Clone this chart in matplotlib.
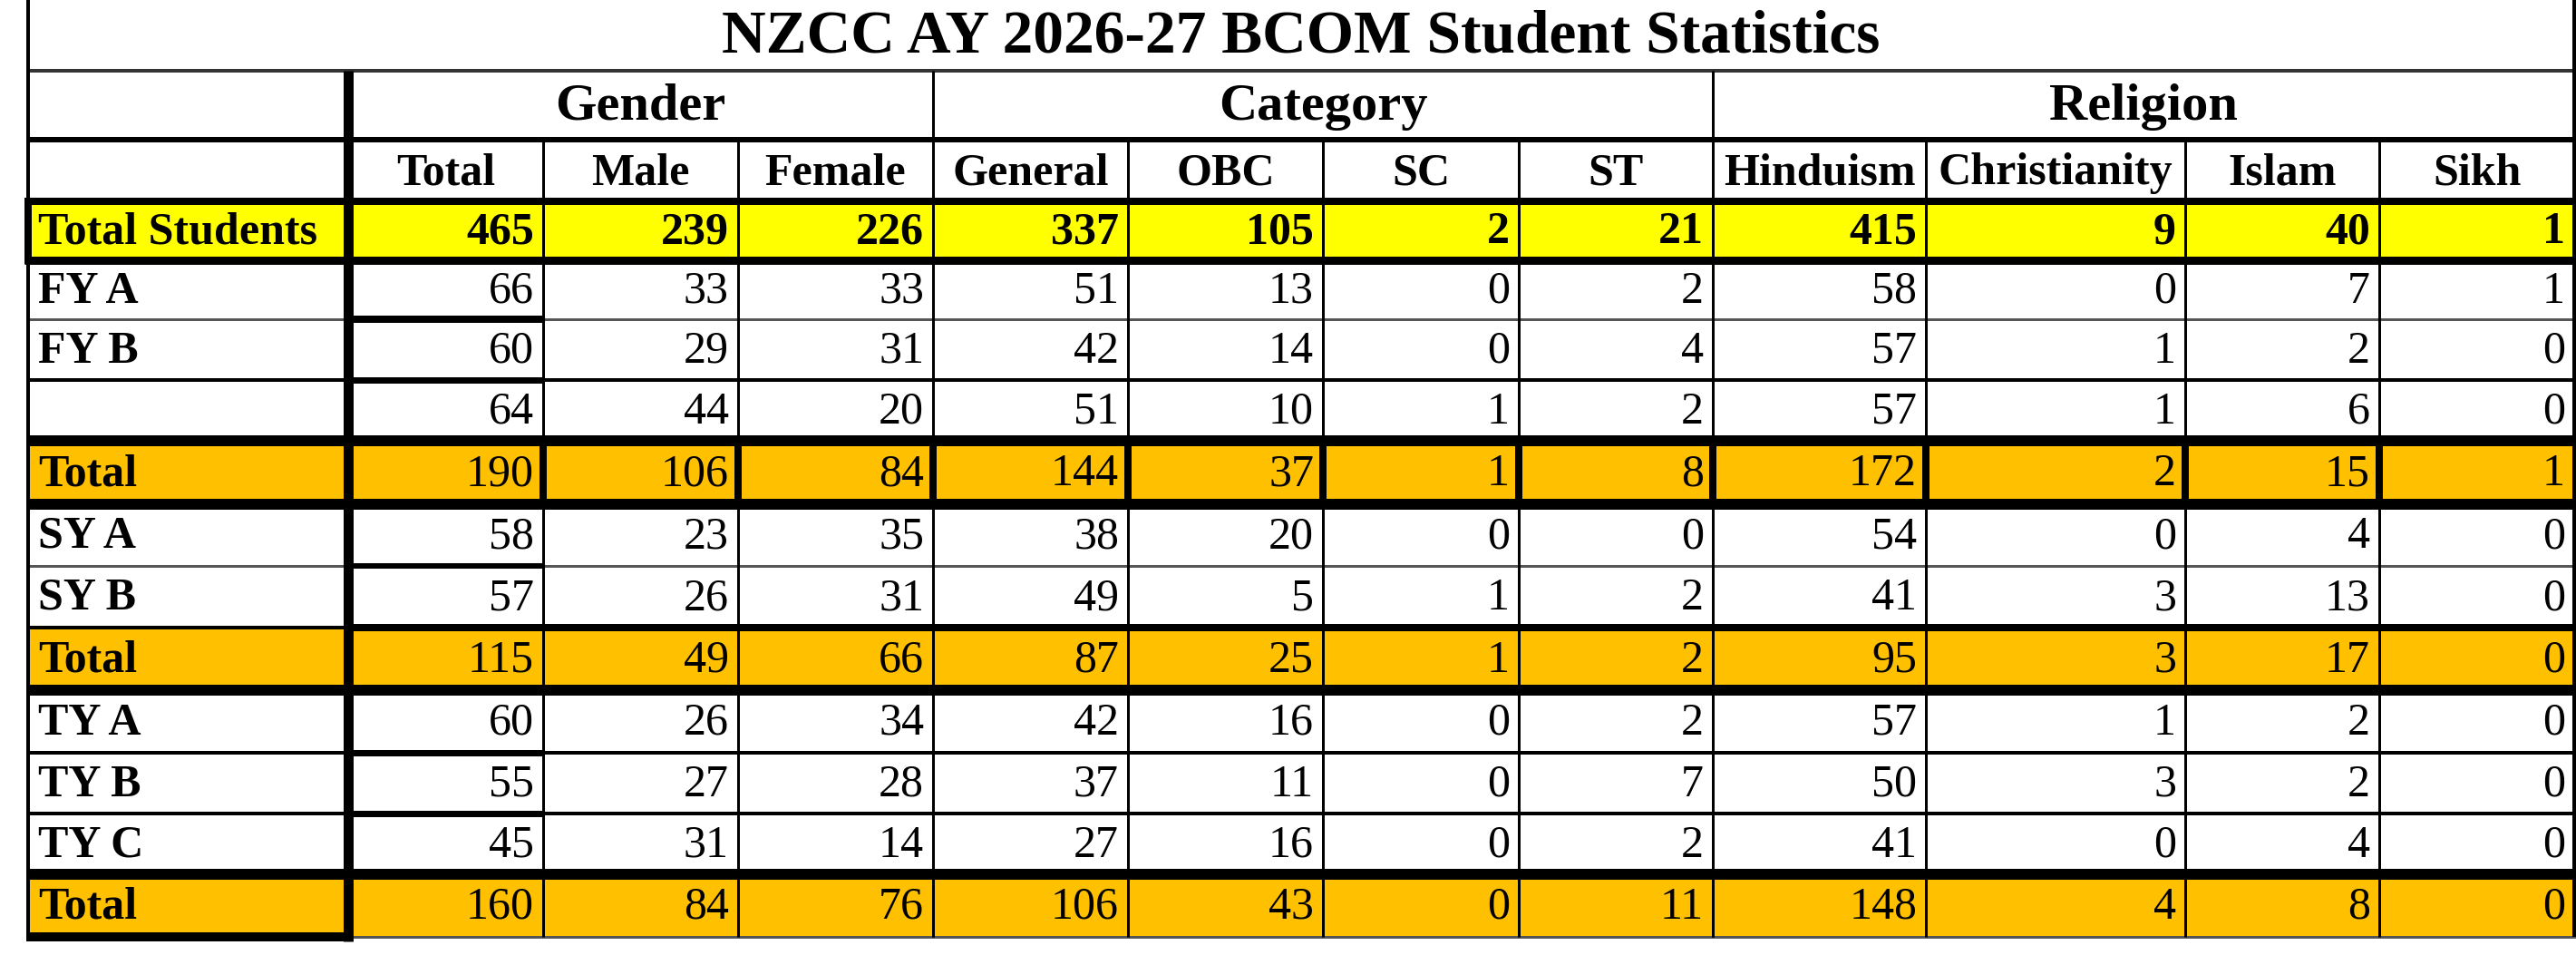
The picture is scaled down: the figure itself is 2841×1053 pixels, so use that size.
import matplotlib
matplotlib.use("Agg")
import matplotlib.pyplot as plt
from matplotlib.patches import Rectangle

# ---- data ----
title = "NZCC AY 2026-27 BCOM Student Statistics"
groups = ["Gender", "Category", "Religion"]
group_span = [(0, 3), (3, 7), (7, 11)]   # column index ranges
columns = ["Total", "Male", "Female", "General", "OBC", "SC", "ST",
           "Hinduism", "Christianity", "Islam", "Sikh"]

row_labels = ["Total Students", "FY A", "FY B", "", "Total",
              "SY A", "SY B", "Total", "TY A", "TY B", "TY C", "Total"]
row_kind = ["grand", "row", "row", "row", "total",
            "row", "row", "total", "row", "row", "row", "total"]

total_students = [465, 239, 226, 337, 105, 2, 21, 415, 9, 40, 1]
fy_a = [66, 33, 33, 51, 13, 0, 2, 58, 0, 7, 1]
fy_b = [60, 29, 31, 42, 14, 0, 4, 57, 1, 2, 0]
fy_c = [64, 44, 20, 51, 10, 1, 2, 57, 1, 6, 0]
fy_total = [190, 106, 84, 144, 37, 1, 8, 172, 2, 15, 1]
sy_a = [58, 23, 35, 38, 20, 0, 0, 54, 0, 4, 0]
sy_b = [57, 26, 31, 49, 5, 1, 2, 41, 3, 13, 0]
sy_total = [115, 49, 66, 87, 25, 1, 2, 95, 3, 17, 0]
ty_a = [60, 26, 34, 42, 16, 0, 2, 57, 1, 2, 0]
ty_b = [55, 27, 28, 37, 11, 0, 7, 50, 3, 2, 0]
ty_c = [45, 31, 14, 27, 16, 0, 2, 41, 0, 4, 0]
ty_total = [160, 84, 76, 106, 43, 0, 11, 148, 4, 8, 0]

values = [total_students, fy_a, fy_b, fy_c, fy_total, sy_a, sy_b, sy_total,
          ty_a, ty_b, ty_c, ty_total]

# ---- layout (pixels) ----
W, H = 2841, 1053
col_x = [31, 384, 599, 814, 1029, 1244, 1459, 1675, 1889, 2124, 2410, 2624, 2839]
row_y = [0, 78, 154, 222, 287, 352, 419, 486, 556, 624, 692, 761, 830, 897, 964, 1033]

fills = {"grand": "#FFFF00", "total": "#FFC000", "row": "white"}
FONT = "Liberation Serif"
px = 72 / 100.0  # points per pixel

fig = plt.figure(figsize=(W / 100, H / 100), dpi=100)
ax = fig.add_axes([0, 0, 1, 1])
ax.set_xlim(0, W)
ax.set_ylim(H, 0)
ax.axis("off")

# row fills
for i, kind in enumerate(row_kind):
    y0, y1 = row_y[i + 3], row_y[i + 4]
    ax.add_patch(Rectangle((col_x[0], y0), col_x[-1] - col_x[0], y1 - y0,
                           facecolor=fills[kind], edgecolor="none", zorder=0))

# title
ax.text((col_x[0] + col_x[-1]) / 2, (row_y[0] + row_y[1]) / 2 + 2, title,
        ha="center", va="center", fontsize=48.5, fontweight="bold", family=FONT)

# group headers
for g, (a, b) in zip(groups, group_span):
    ax.text((col_x[a + 1] + col_x[b + 1]) / 2, (row_y[1] + row_y[2]) / 2 + 2, g,
            ha="center", va="center", fontsize=42, fontweight="bold", family=FONT)

# column headers
for j, c in enumerate(columns):
    ax.text((col_x[j + 1] + col_x[j + 2]) / 2, (row_y[2] + row_y[3]) / 2 + 3, c,
            ha="center", va="center", fontsize=36, fontweight="bold", family=FONT)

# body
for i, (lab, kind, vals) in enumerate(zip(row_labels, row_kind, values)):
    yc = (row_y[i + 3] + row_y[i + 4]) / 2 + 2
    ax.text(col_x[0] + 11, yc, lab, ha="left", va="center", fontsize=36,
            fontweight="bold", family=FONT)
    wt = "bold" if kind == "grand" else "normal"
    for j, v in enumerate(vals):
        ax.text(col_x[j + 2] - 10, yc, str(v), ha="right", va="center",
                fontsize=36, fontweight=wt, family=FONT)


def hline(y, x0, x1, w, color="black"):
    ax.plot([x0, x1], [y, y], color=color, lw=w * px,
            solid_capstyle="butt", zorder=3)


def vline(x, y0, y1, w, color="black"):
    ax.plot([x, x], [y0, y1], color=color, lw=w * px,
            solid_capstyle="butt", zorder=4)


L, R = col_x[0], col_x[-1]
lab_r, tot_r = col_x[1], col_x[2]
Lo, Ro = L - 2, R + 2

# horizontal borders
hline(row_y[1], Lo, Ro, 4, "#333333")
hline(row_y[2], Lo, Ro, 6)
hline(row_y[3], L - 4, Ro, 8)
hline(row_y[4], L - 4, Ro, 9)
hline(row_y[5], Lo, Ro, 3, "#555555")
hline(row_y[5], lab_r, tot_r, 8)
hline(row_y[6], Lo, Ro, 4)
hline(row_y[6], lab_r, tot_r, 7)
hline(row_y[7], Lo, Ro, 12)
hline(row_y[8], Lo, Ro, 12)
hline(row_y[9], Lo, Ro, 3, "#555555")
hline(row_y[9], lab_r, tot_r, 6)
hline(row_y[10], Lo, Ro, 4)
hline(row_y[10], lab_r, Ro, 8)
hline(row_y[11], Lo, Ro, 12)
hline(row_y[12], Lo, Ro, 4)
hline(row_y[12], lab_r, tot_r, 7)
hline(row_y[13], Lo, Ro, 4)
hline(row_y[13], lab_r, tot_r, 7)
hline(row_y[14], Lo, Ro, 12)
hline(row_y[15], Lo, Ro, 3, "#555555")
hline(row_y[15], Lo, lab_r + 6, 10)

# vertical borders
vline(L, 0, row_y[15], 4)
vline(L, row_y[3] - 4, row_y[4] + 4, 8)
vline(R, 0, row_y[15], 4)
vline(lab_r, row_y[1], row_y[15] + 5, 11)
for a, b in group_span[1:]:
    vline(col_x[a + 1], row_y[1], row_y[15], 3)
for x in col_x[2:-1]:
    vline(x, row_y[2], row_y[15], 3)
    vline(x, row_y[7], row_y[8], 8)

fig.savefig("out.png", dpi=100)
